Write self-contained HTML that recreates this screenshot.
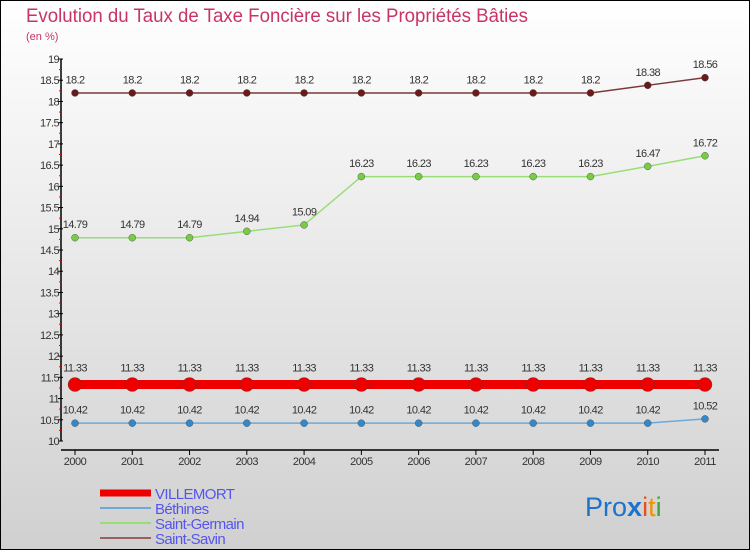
<!DOCTYPE html>
<html><head><meta charset="utf-8"><style>
body{margin:0;width:750px;height:550px;overflow:hidden;}
svg{display:block;font-family:"Liberation Sans","DejaVu Sans",sans-serif;}
</style></head><body>
<svg id="c" width="750" height="550" xmlns="http://www.w3.org/2000/svg">
<defs><linearGradient id="bg" x1="0" y1="0" x2="0" y2="1"><stop offset="0" stop-color="#ffffff"/><stop offset="1" stop-color="#d0d0d0"/></linearGradient></defs>
<rect x="0.5" y="0.5" width="749" height="549" fill="url(#bg)" stroke="#000"/>
<text x="26" y="22" font-size="19" fill="#c8336a" textLength="502" lengthAdjust="spacingAndGlyphs">Evolution du Taux de Taxe Foncière sur les Propriétés Bâties</text>
<text x="26" y="40" font-size="11" fill="#c8336a">(en %)</text>
<g id="axes"></g><g id="series"></g><g id="legend"></g>
<text x="585" y="516" font-size="27"><tspan fill="#1a74cc">Pro</tspan><tspan fill="#1a74cc" font-weight="bold">x</tspan><tspan fill="#e94e1b">i</tspan><tspan fill="#f39200">t</tspan><tspan fill="#3aa635">i</tspan></text>
</svg>
<script>
const years=[2000,2001,2002,2003,2004,2005,2006,2007,2008,2009,2010,2011];
const villemort=[11.33,11.33,11.33,11.33,11.33,11.33,11.33,11.33,11.33,11.33,11.33,11.33];
const bethines=[10.42,10.42,10.42,10.42,10.42,10.42,10.42,10.42,10.42,10.42,10.42,10.52];
const saintGermain=[14.79,14.79,14.79,14.94,15.09,16.23,16.23,16.23,16.23,16.23,16.47,16.72];
const saintSavin=[18.2,18.2,18.2,18.2,18.2,18.2,18.2,18.2,18.2,18.2,18.38,18.56];
const yTicks=[10,10.5,11,11.5,12,12.5,13,13.5,14,14.5,15,15.5,16,16.5,17,17.5,18,18.5,19];
const NS="http://www.w3.org/2000/svg";
const X=i=>75+i*(630/11);
const Y=v=>441-(v-10)*(382/9);
function mk(p,t,a){const e=document.createElementNS(NS,t);for(const k in a)e.setAttribute(k,a[k]);p.appendChild(e);return e;}
const ax=document.getElementById('axes');
let l=mk(ax,'line',{x1:61,y1:Y(19),x2:61,y2:Y(10),stroke:'#000','stroke-width':1.5});


l=mk(ax,'line',{x1:61,y1:450,x2:X(11)+14,y2:450,stroke:'#000','stroke-width':1.5});


yTicks.forEach(v=>{
 mk(ax,'line',{x1:58,y1:Y(v),x2:63,y2:Y(v),stroke:'#000'});
 if(v<19) mk(ax,'line',{x1:59,y1:Y(v+0.25),x2:61,y2:Y(v+0.25),stroke:'#e00'});
 const t=mk(ax,'text',{x:59,y:Y(v)+4,'font-size':11,'text-anchor':'end',fill:'#333','letter-spacing':'-0.6'});
 t.textContent=String(v);
 
 
});
years.forEach((y,i)=>{
 mk(ax,'line',{x1:X(i),y1:450,x2:X(i),y2:455,stroke:'#000'});
 const t=mk(ax,'text',{x:X(i),y:465,'font-size':11,'text-anchor':'middle',fill:'#333','letter-spacing':'-0.5'});
 t.textContent=y;
 
 
});
const sg=document.getElementById('series');
const series=[
 {d:saintSavin,c:'#7a3a3a',dot:'#6a1a1a',w:1.5,r:3.5,n:'saint-savin'},
 {d:saintGermain,c:'#99dd77',dot:'#77cc44',w:1.5,r:3.5,n:'saint-germain'},
 {d:villemort,c:'#ee0000',dot:'#ee0000',w:9,r:7,n:'villemort'},
 {d:bethines,c:'#6ea8d8',dot:'#3388cc',w:1.5,r:3.5,n:'bethines'}];
series.forEach(s=>{
 const p=mk(sg,'polyline',{points:s.d.map((v,i)=>X(i)+','+Y(v)).join(' '),fill:'none',stroke:s.c,'stroke-width':s.w});
 
 
 s.d.forEach((v,i)=>{
  const c=mk(sg,'circle',{cx:X(i),cy:Y(v),r:s.r,fill:s.dot,stroke:'#444','stroke-width':0.4});
  
  
  const t=mk(sg,'text',{x:X(i),y:Y(v)-(s.r+6),'font-size':11,'text-anchor':'middle',fill:'#333','letter-spacing':'-0.6'});
  t.textContent=String(v);
  
  
 });
});
const lg=document.getElementById('legend');
const items=[['VILLEMORT','#ee0000',7],['Béthines','#6ea8d8',2],['Saint-Germain','#99dd77',2],['Saint-Savin','#9a6060',2]];
items.forEach((it,i)=>{
 const y=493+i*15;
 const r=mk(lg,'line',{x1:100,y1:y,x2:151,y2:y,stroke:it[1],'stroke-width':it[2]});
 
 
 const t=mk(lg,'text',{x:155,y:y+6,'font-size':15,fill:'#5555ee','letter-spacing':'-0.6'});
 t.textContent=it[0];
 
 
});
</script>
</body></html>
